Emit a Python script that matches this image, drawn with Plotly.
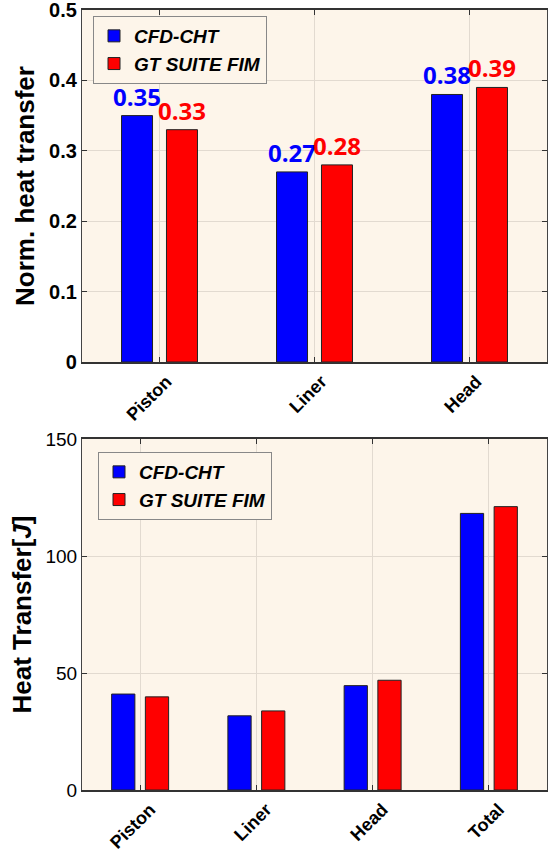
import plotly.graph_objects as go
from plotly.subplots import make_subplots

# ---- data ----
cats_top = ["Piston", "Liner", "Head"]
cfd_norm = [0.35, 0.27, 0.38]
gt_norm = [0.33, 0.28, 0.39]

cats_bot = ["Piston", "Liner", "Head", "Total"]
cfd_heat = [41.0, 31.7, 44.6, 118.2]
gt_heat = [39.8, 33.8, 46.9, 121.1]

series_names = ["CFD-CHT", "GT SUITE FIM"]
colors = ["#0000FF", "#FF0000"]

BG = "#FDF5EA"
FONT = "Liberation Sans, Arial, sans-serif"

fig = make_subplots(rows=2, cols=1)

# top panel
for vals, name, col, off in [(cfd_norm, series_names[0], colors[0], -0.245),
                             (gt_norm, series_names[1], colors[1], 0.045)]:
    fig.add_trace(go.Bar(
        x=cats_top, y=vals, name=name, width=0.2, offset=off,
        marker=dict(color=col, line=dict(color="#222222", width=1)),
        text=[f"{v:.2f}" for v in vals], textposition="outside",
        constraintext="none",
        textfont=dict(family="Open Sans, sans-serif", size=24, color=col, weight="bold"),
        cliponaxis=False, legend="legend",
    ), row=1, col=1)

# bottom panel
for vals, name, col, off in [(cfd_heat, series_names[0], colors[0], -0.245),
                             (gt_heat, series_names[1], colors[1], 0.045)]:
    fig.add_trace(go.Bar(
        x=cats_bot, y=vals, name=name, width=0.2, offset=off,
        marker=dict(color=col, line=dict(color="#222222", width=1)),
        legend="legend2",
    ), row=2, col=1)

W, H = 555, 856
xd = [82 / W, 547 / W]
ax_common = dict(showline=True, linecolor="#444444", linewidth=1.2, mirror="ticks",
                 ticks="inside", ticklen=5, tickcolor="#333333", automargin=False,
                 ticklabeloverflow="allow",
                 showgrid=True, gridcolor="#E2DAD0", gridwidth=1, zeroline=False)

fig.update_xaxes(**ax_common)
fig.update_yaxes(**ax_common)

legfont = dict(size=19, family=FONT, weight="bold", style="italic")

fig.update_layout(
    width=W, height=H,
    margin=dict(l=0, r=0, t=0, b=0),
    paper_bgcolor="white", plot_bgcolor=BG,
    font=dict(family=FONT, color="black"),
    showlegend=True,
    xaxis=dict(domain=xd, range=[-0.5, 2.5], tickangle=-45, ticklabelshift=7,
               tickfont=dict(size=18, weight="bold", family=FONT)),
    yaxis=dict(domain=[1 - 362 / H, 1 - 10 / H], range=[0, 0.5], dtick=0.1,
               tickfont=dict(size=20, weight="bold", family=FONT),
               title=dict(text="Norm. heat transfer", standoff=6,
                          font=dict(size=26, weight="bold", family=FONT))),
    xaxis2=dict(domain=xd, range=[-0.5, 3.5], tickangle=-45, ticklabelshift=10,
                tickfont=dict(size=18, weight="bold", family=FONT)),
    yaxis2=dict(domain=[1 - 790 / H, 1 - 439 / H], range=[0, 150], dtick=50,
                tickfont=dict(size=19, family=FONT),
                title=dict(text="Heat Transfer[<i>J</i>]", standoff=6,
                           font=dict(size=26, weight="bold", family=FONT))),
    legend=dict(x=93 / W, y=1 - 16 / H, xanchor="left", yanchor="top",
                bgcolor=BG, bordercolor="#888888", borderwidth=1,
                font=legfont, traceorder="normal", tracegroupgap=0),
    legend2=dict(x=98 / W, y=1 - 452 / H, xanchor="left", yanchor="top",
                 bgcolor=BG, bordercolor="#888888", borderwidth=1,
                 font=legfont, traceorder="normal", tracegroupgap=0),
)
fig.update_xaxes(linewidth=1.8, linecolor="#333333")

fig.write_html("out.html")
